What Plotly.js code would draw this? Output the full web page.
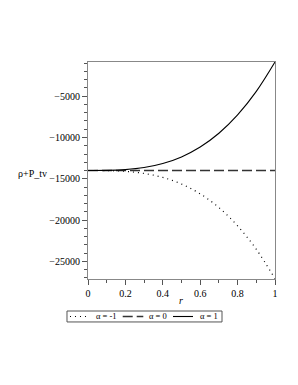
<!DOCTYPE html>
<html>
<head>
<meta charset="utf-8">
<script src="https://cdn.plot.ly/plotly-3.0.1.min.js"></script>
<style>html,body{margin:0;padding:0;background:#fff;}#chart{width:298px;height:385px;}</style>
</head>
<body>
<div id="chart"></div>
<script>
var r = [0, 0.1, 0.2, 0.3, 0.4, 0.5, 0.6, 0.7, 0.8, 0.9, 1.0];
var alphaMinus1 = [-14000, -14013, -14105, -14355, -14840, -15640, -16830, -18490, -20710, -23550, -27120];
var alpha0 = [-14000, -14000, -14000, -14000, -14000, -14000, -14000, -14000, -14000, -14000, -14000];
var alpha1 = [-14000, -13987, -13895, -13645, -13158, -12356, -11160, -9490, -7267, -4414, -850];
var seriesNames = ['\u03b1 = -1', '\u03b1 = 0', '\u03b1 = 1'];
var yTickVals = [-5000, -10000, -15000, -20000, -25000];
var yTickText = ['\u22125000', '\u221210000', '\u221215000', '\u221220000', '\u221225000'];
var xTickVals = [0, 0.2, 0.4, 0.6, 0.8, 1];
var xTickText = ['0', '0.2', '0.4', '0.6', '0.8', '1'];

var fam = '"Liberation Serif", "Times New Roman", serif';
var font = {family: fam, size: 10, color: '#000'};
var legFont = {family: fam, size: 8.5, color: '#000'};

var styles = [
  {color: '#000', width: 1.2, dash: '1px,4px'},
  {color: '#333', width: 1.5, dash: '10px,4px'},
  {color: '#000', width: 1.1, dash: 'solid'}
];

var traces = [
  {x: r, y: alphaMinus1, name: seriesNames[0], mode: 'lines', line: Object.assign({shape: 'spline'}, styles[0])},
  {x: r, y: alpha0, name: seriesNames[1], mode: 'lines', line: Object.assign({}, styles[1])},
  {x: r, y: alpha1, name: seriesNames[2], mode: 'lines', line: Object.assign({shape: 'spline'}, styles[2])}
];

var axisCommon = {
  showline: true, linecolor: '#888', linewidth: 1, mirror: true,
  showgrid: false, zeroline: false, ticks: 'outside', ticklen: 5, tickcolor: '#555', tickwidth: 1,
  tickfont: font
};

// manual legend (paper coordinates)
var legY = -0.1728;
var legLines = [[-0.0963, 0.0107], [0.1856, 0.2957], [0.4545, 0.5615]];
var legTextX = [0.1016, 0.377, 0.647];
var shapes = [
  {type: 'rect', xref: 'paper', yref: 'paper', x0: -0.1123, x1: 0.7166, y0: -0.198, y1: -0.1475,
   line: {color: '#555', width: 1}, fillcolor: 'rgba(0,0,0,0)'}
];
var annotations = [
  {text: '\u03c1+P_tv', xref: 'paper', yref: 'paper', x: -0.297, y: 0.487, xanchor: 'center', yanchor: 'middle', showarrow: false, font: font},
  {text: '<i>r</i>', xref: 'paper', yref: 'paper', x: 0.497, y: -0.1, xanchor: 'center', yanchor: 'middle', showarrow: false, font: font}
];
for (var i = 0; i < 3; i++) {
  shapes.push({type: 'line', xref: 'paper', yref: 'paper', x0: legLines[i][0], x1: legLines[i][1], y0: legY, y1: legY,
    line: {color: styles[i].color, width: styles[i].width, dash: styles[i].dash}});
  annotations.push({text: seriesNames[i], xref: 'paper', yref: 'paper', x: legTextX[i], y: legY,
    xanchor: 'center', yanchor: 'middle', showarrow: false, font: legFont});
}

var layout = {
  width: 298, height: 385,
  margin: {l: 88, r: 23, t: 62, b: 106},
  paper_bgcolor: '#fff', plot_bgcolor: '#fff',
  font: font,
  xaxis: Object.assign({}, axisCommon, {
    range: [0, 1], tickmode: 'array', tickvals: xTickVals, ticktext: xTickText,
    minor: {dtick: 0.1, ticks: 'outside', ticklen: 3, tickcolor: '#555'}
  }),
  yaxis: Object.assign({}, axisCommon, {
    range: [-27150, -850], tickmode: 'array', tickvals: yTickVals, ticktext: yTickText,
    minor: {dtick: 1000, tick0: 0, ticks: 'outside', ticklen: 3, tickcolor: '#555'}
  }),
  showlegend: false,
  shapes: shapes,
  annotations: annotations
};

Plotly.newPlot('chart', traces, layout, {displayModeBar: false, staticPlot: true});
</script>
</body>
</html>
